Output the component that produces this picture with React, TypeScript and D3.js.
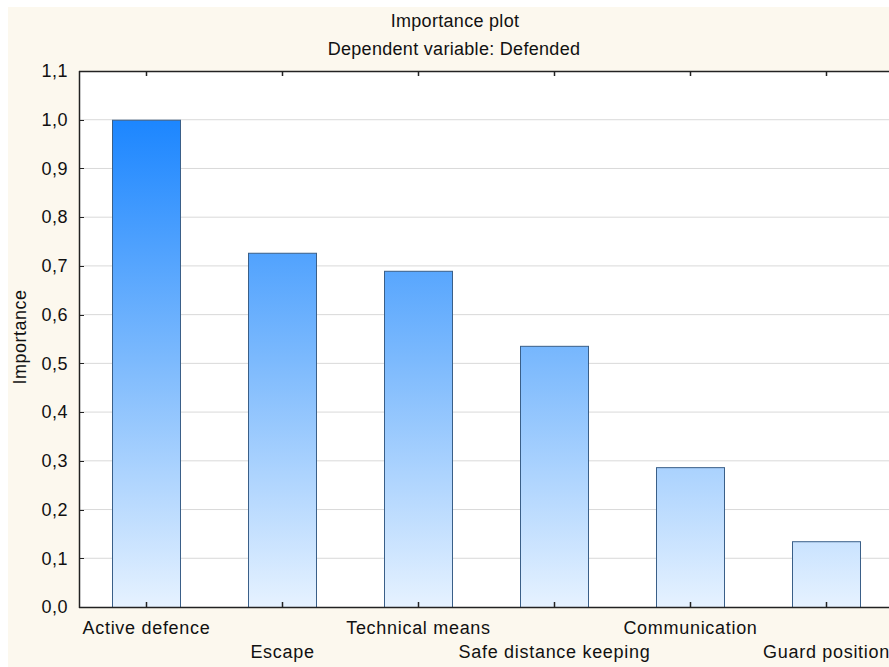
import React, { useEffect, useRef } from "react";
import * as d3 from "d3";

const categories = ["Active defence", "Escape", "Technical means", "Safe distance keeping", "Communication", "Guard position"];
const importance = [1.0, 0.727, 0.69, 0.536, 0.287, 0.135];
const yTicks = [0, 0.1, 0.2, 0.3, 0.4, 0.5, 0.6, 0.7, 0.8, 0.9, 1.0, 1.1];
const titleLines = ["Importance plot", "Dependent variable: Defended"];
const yLabel = "Importance";

const W = 889;
const H = 667;

export default function App() {
  const ref = useRef<SVGSVGElement>(null);
  useEffect(() => {
    const svg = d3.select(ref.current);
    svg.selectAll("*").remove();
    const left = 79, top = 71, bottom = 607;
    const x = d3.scaleBand<string>().domain(categories).range([78, 78 + 136 * categories.length]).paddingInner(0.5).paddingOuter(0.25);
    const y = d3.scaleLinear().domain([0, 1.1]).range([bottom, top]);
    const font = "Arial, 'Liberation Sans', sans-serif";

    svg.append("rect").attr("width", W).attr("height", H).attr("fill", "#ffffff");
    svg.append("rect").attr("x", 8).attr("y", 7).attr("width", W - 8).attr("height", H - 7).attr("fill", "#fcf8ee");
    const defs = svg.append("defs");
    const grad = defs.append("linearGradient").attr("id", "bg").attr("gradientUnits", "userSpaceOnUse")
      .attr("x1", 0).attr("x2", 0).attr("y1", y(1.0)).attr("y2", y(0));
    grad.append("stop").attr("offset", "0%").attr("stop-color", "#1c86ff");
    grad.append("stop").attr("offset", "50%").attr("stop-color", "#7dbafd");
    grad.append("stop").attr("offset", "100%").attr("stop-color", "#e6f2ff");

    // plot area
    svg.append("rect").attr("x", left).attr("y", top).attr("width", W - left).attr("height", bottom - top).attr("fill", "#ffffff");

    // grid
    svg.append("g").selectAll("line").data(yTicks.filter(t => t > 0 && t < 1.1)).join("line")
      .attr("x1", left).attr("x2", W).attr("y1", d => y(d)).attr("y2", d => y(d))
      .attr("stroke", "#d9d9d9").attr("stroke-width", 1);

    // bars
    svg.append("g").selectAll("rect").data(categories).join("rect")
      .attr("x", d => x(d)! + 0.5).attr("width", x.bandwidth())
      .attr("y", (d, i) => y(importance[i]) + 0.5).attr("height", (d, i) => y(0) - y(importance[i]))
      .attr("fill", "url(#bg)").attr("stroke", "#3a5f88").attr("stroke-width", 1);

    // axes
    svg.append("line").attr("x1", left + 0.5).attr("x2", left + 0.5).attr("y1", top).attr("y2", bottom + 1).attr("stroke", "#222").attr("stroke-width", 1.5);
    svg.append("line").attr("x1", left).attr("x2", W).attr("y1", top + 0.5).attr("y2", top + 0.5).attr("stroke", "#222").attr("stroke-width", 1.5);
    svg.append("line").attr("x1", left).attr("x2", W).attr("y1", bottom + 0.5).attr("y2", bottom + 0.5).attr("stroke", "#222").attr("stroke-width", 1.5);

    // y ticks
    const fmt = (v: number) => v.toFixed(1).replace(".", ",");
    const yt = svg.append("g");
    yt.selectAll("line").data(yTicks).join("line")
      .attr("x1", left).attr("x2", left + 5).attr("y1", d => Math.round(y(d)) + 0.5).attr("y2", d => Math.round(y(d)) + 0.5)
      .attr("stroke", "#222");
    yt.selectAll("text").data(yTicks).join("text")
      .attr("x", left - 11).attr("y", d => y(d)).attr("dy", "0.35em").attr("text-anchor", "end")
      .attr("font-family", font).attr("font-size", 18).attr("letter-spacing", 0.5).attr("fill", "#111").text(fmt);

    // x ticks
    const xt = svg.append("g");
    categories.forEach((c, i) => {
      const cx = Math.round(x(c)! + x.bandwidth() / 2) + 0.5;
      xt.append("line").attr("x1", cx).attr("x2", cx).attr("y1", bottom).attr("y2", bottom - 5).attr("stroke", "#222").attr("stroke-width", 1.5);
      xt.append("line").attr("x1", cx).attr("x2", cx).attr("y1", top).attr("y2", top + 5).attr("stroke", "#222").attr("stroke-width", 1.5);
      xt.append("text").attr("x", cx).attr("y", i % 2 === 0 ? 634 : 658).attr("text-anchor", "middle")
        .attr("font-family", font).attr("font-size", 18).attr("letter-spacing", 0.7).attr("fill", "#111").text(c);
    });

    // titles
    svg.append("text").attr("x", 455).attr("y", 27).attr("text-anchor", "middle")
      .attr("font-family", font).attr("font-size", 18).attr("letter-spacing", 0.3).attr("fill", "#111").text(titleLines[0]);
    svg.append("text").attr("x", 454).attr("y", 55).attr("text-anchor", "middle")
      .attr("font-family", font).attr("font-size", 18).attr("letter-spacing", 0.3).attr("fill", "#111").text(titleLines[1]);

    // y label
    svg.append("text").attr("transform", `translate(26,337) rotate(-90)`)
      .attr("text-anchor", "middle").attr("font-family", font).attr("font-size", 18).attr("letter-spacing", 0.5).attr("fill", "#111").text(yLabel);
  }, []);
  return <svg ref={ref} width={W} height={H} style={{ display: "block", position: "fixed", left: 0, top: 0 }} />;
}
